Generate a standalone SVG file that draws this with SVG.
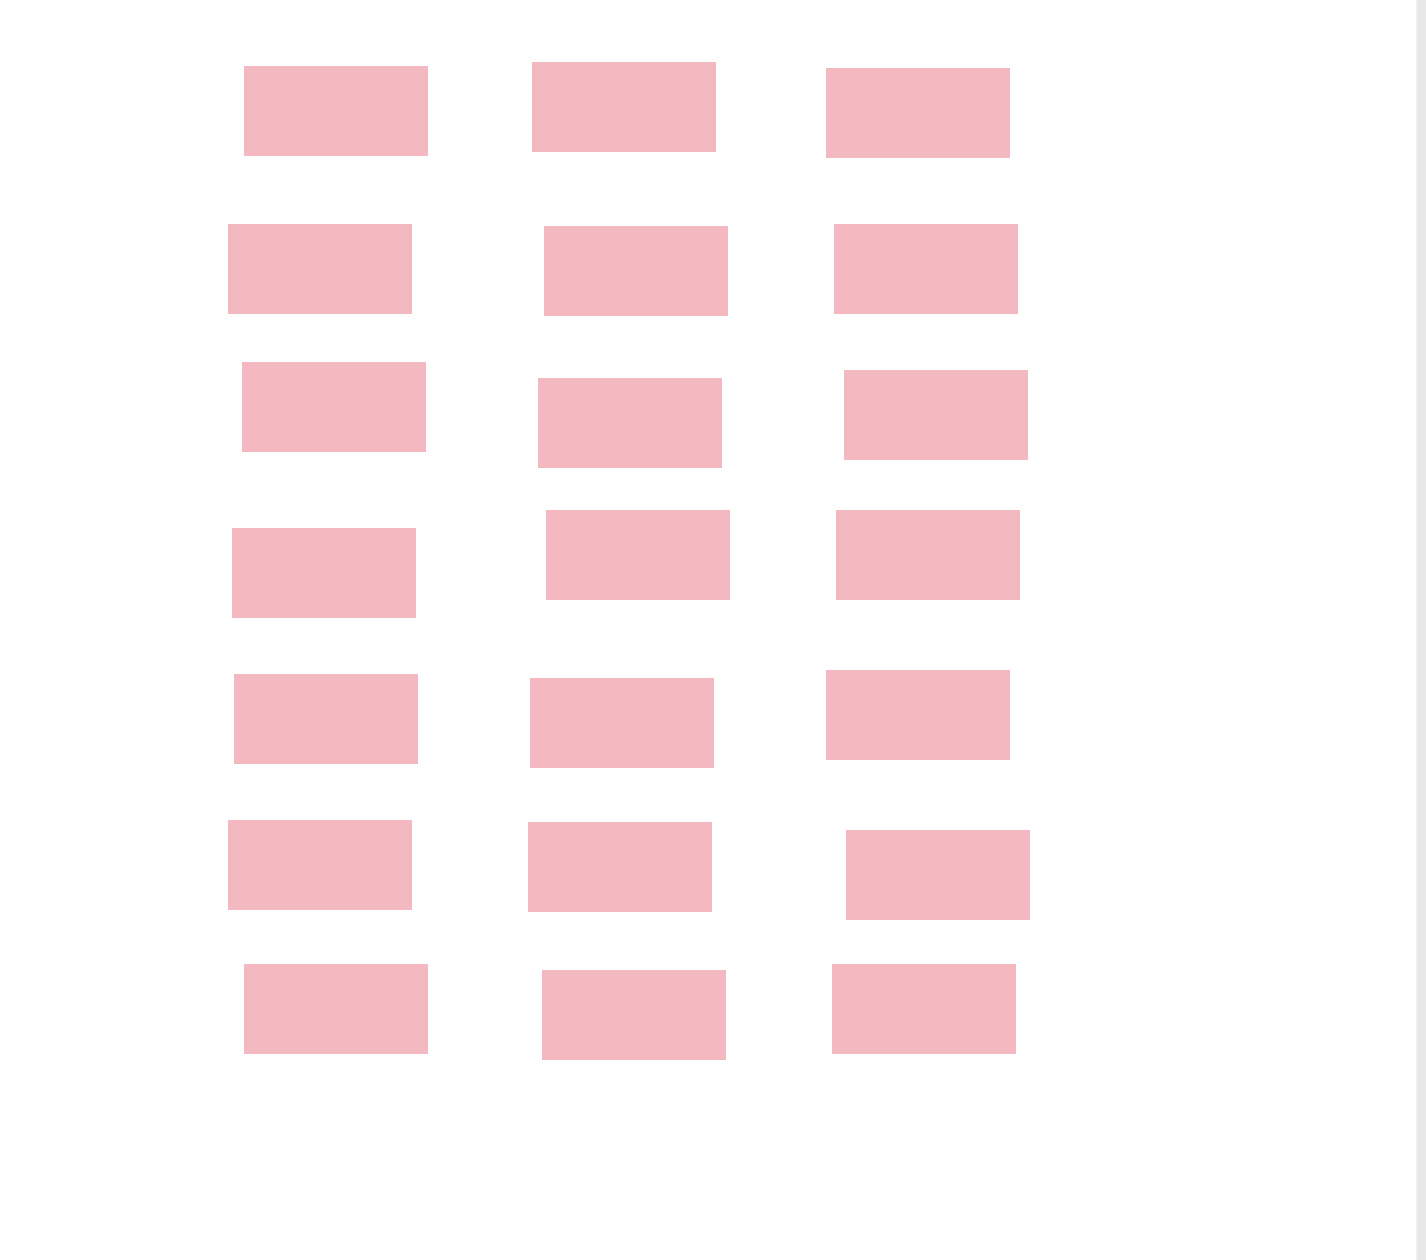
<svg xmlns="http://www.w3.org/2000/svg" width="1426" height="1260" viewBox="0 0 1426 1260">
<style>
.n{fill:#f4b8c1;}
</style>
<rect x="0" y="0" width="1426" height="1260" fill="#ffffff"/>
<rect x="1416" y="0" width="10" height="1260" fill="#e8e8e8"/>
<rect x="1416" y="0" width="2" height="1260" fill="#efefef"/>
<g id="connectors"></g>
<g id="n1"><rect class="n" x="244" y="66" width="184" height="90"/></g>
<g id="n2"><rect class="n" x="532" y="62" width="184" height="90"/></g>
<g id="n3"><rect class="n" x="826" y="68" width="184" height="90"/></g>
<g id="n4"><rect class="n" x="228" y="224" width="184" height="90"/></g>
<g id="n5"><rect class="n" x="544" y="226" width="184" height="90"/></g>
<g id="n6"><rect class="n" x="834" y="224" width="184" height="90"/></g>
<g id="n7"><rect class="n" x="242" y="362" width="184" height="90"/></g>
<g id="n8"><rect class="n" x="538" y="378" width="184" height="90"/></g>
<g id="n9"><rect class="n" x="844" y="370" width="184" height="90"/></g>
<g id="n10"><rect class="n" x="232" y="528" width="184" height="90"/></g>
<g id="n11"><rect class="n" x="546" y="510" width="184" height="90"/></g>
<g id="n12"><rect class="n" x="836" y="510" width="184" height="90"/></g>
<g id="n13"><rect class="n" x="234" y="674" width="184" height="90"/></g>
<g id="n14"><rect class="n" x="530" y="678" width="184" height="90"/></g>
<g id="n15"><rect class="n" x="826" y="670" width="184" height="90"/></g>
<g id="n16"><rect class="n" x="228" y="820" width="184" height="90"/></g>
<g id="n17"><rect class="n" x="528" y="822" width="184" height="90"/></g>
<g id="n18"><rect class="n" x="846" y="830" width="184" height="90"/></g>
<g id="n19"><rect class="n" x="244" y="964" width="184" height="90"/></g>
<g id="n20"><rect class="n" x="542" y="970" width="184" height="90"/></g>
<g id="n21"><rect class="n" x="832" y="964" width="184" height="90"/></g>
</svg>
